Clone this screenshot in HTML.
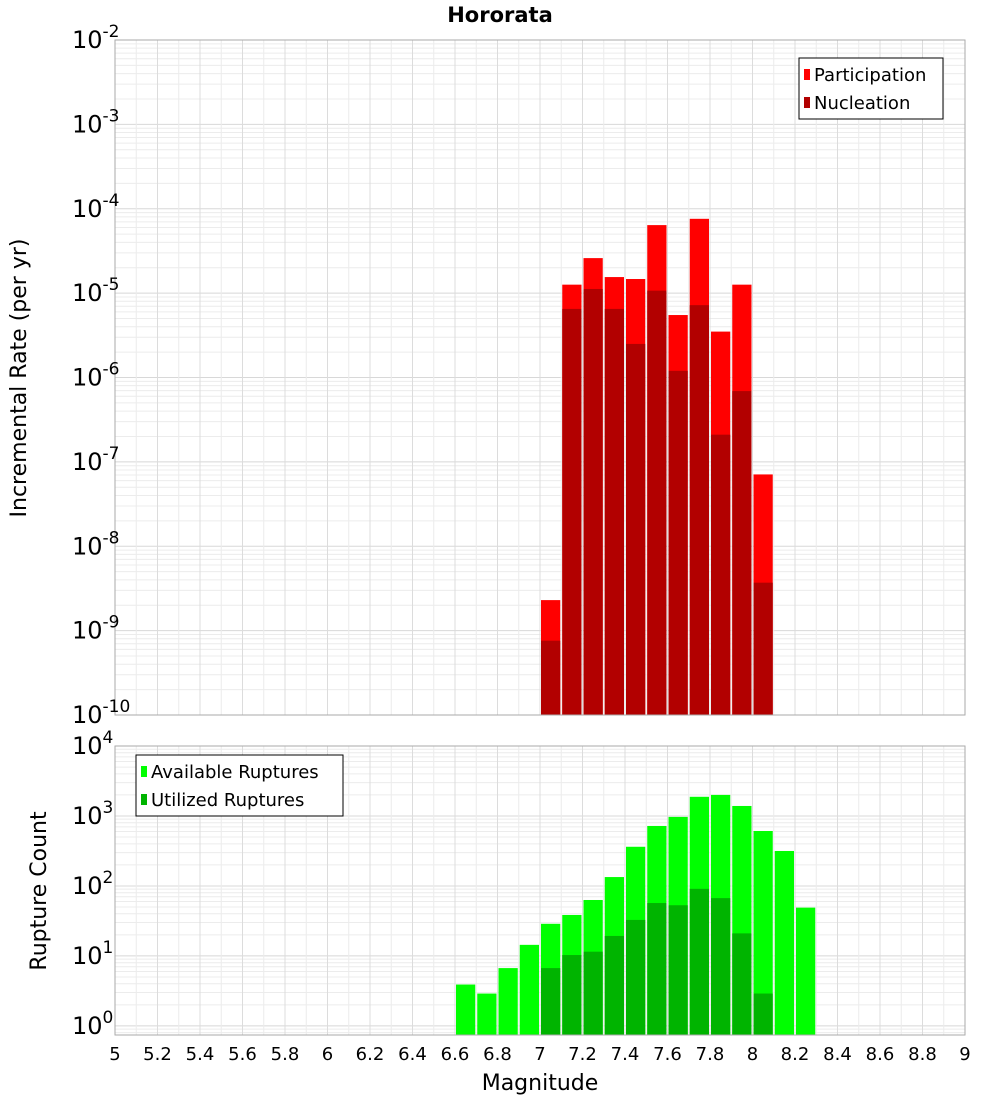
<!DOCTYPE html>
<html><head><meta charset="utf-8"><style>
body{margin:0;background:#fff;font-family:"Liberation Sans","DejaVu Sans",sans-serif}
</style></head><body>
<svg id="c" width="1000" height="1100" xmlns="http://www.w3.org/2000/svg" font-family="DejaVu Sans, Liberation Sans, sans-serif"></svg>
<script>
const magBins=[7.0,7.1,7.2,7.3,7.4,7.5,7.6,7.7,7.8,7.9,8.0];
const participation=[2.3e-9,1.26e-5,2.6e-5,1.55e-5,1.47e-5,6.4e-5,5.5e-6,7.6e-5,3.5e-6,1.26e-5,7.1e-8];
const nucleation=[7.6e-10,6.5e-6,1.12e-5,6.5e-6,2.5e-6,1.07e-5,1.2e-6,7.2e-6,2.1e-7,6.9e-7,3.7e-9];
const countBins=[6.6,6.7,6.8,6.9,7.0,7.1,7.2,7.3,7.4,7.5,7.6,7.7,7.8,7.9,8.0,8.1,8.2];
const available=[3.9,2.9,6.7,14.4,28.8,38.5,63,134,363,720,970,1880,2000,1390,610,316,49];
const utilized=[0,0,0,0,6.7,10.3,11.5,19.3,32.7,57,53,91,67,21,2.9,0,0];
const xTicks=[5,5.2,5.4,5.6,5.8,6,6.2,6.4,6.6,6.8,7,7.2,7.4,7.6,7.8,8,8.2,8.4,8.6,8.8,9];
const topExp=[-2,-3,-4,-5,-6,-7,-8,-9,-10];
const botExp=[4,3,2,1,0];

const svg=document.getElementById('c');const NS='http://www.w3.org/2000/svg';
function mk(t,a,p){const e=document.createElementNS(NS,t);for(const k in a)e.setAttribute(k,a[k]);(p||svg).appendChild(e);return e;}
const L=115,R=965;
const X=m=>L+(m-5)/4*(R-L);
const T0=40,T1=715;const yT=v=>T0+(-2-Math.log10(v))/8*(T1-T0);
const B0=746,B1=1035;const bMin=-0.13;const yB=v=>B0+(4-Math.log10(v))/(4-bMin)*(B1-B0);

function grid(y0,y1,emax,emin,yf,name){
  const g=mk('g',{});
  
  
  for(let e=Math.floor(emin);e<emax;e++)for(let k=1;k<10;k++){const v=k*Math.pow(10,e);const y=yf(v);if(y<y0||y>y1)continue;
    const l=mk('line',{x1:L,x2:R,y1:y,y2:y,stroke:k==1?'#d8d8d8':'#ececec','stroke-width':1},g);}
  for(let m=5;m<=9.001;m+=0.1){const x=X(m);mk('line',{x1:x,x2:x,y1:y0,y2:y1,stroke:'#ececec','stroke-width':1},g);}
  xTicks.forEach(m=>{const x=X(m);mk('line',{x1:x,x2:x,y1:y0,y2:y1,stroke:'#dcdcdc','stroke-width':1},g);});
}
grid(T0,T1,-2,-10,yT,'top-grid');grid(B0,B1,4,-1,yB,'bottom-grid');

function bars(bins,vals,yf,base,color,name){
  bins.forEach((b,i)=>{if(!vals[i])return;const x0=X(b)+1,x1=X(b+0.1)-1;const y=yf(vals[i]);
    const r=mk('rect',{x:x0,y:y,width:x1-x0,height:base-y,fill:color});
    
    });
}
bars(magBins,participation,yT,T1,'#ff0000','participation-bar');
bars(magBins,nucleation,yT,T1,'#b20000','nucleation-bar');
bars(countBins,available,yB,B1,'#00ff00','available-bar');
bars(countBins,utilized,yB,B1,'#00b400','utilized-bar');

mk('rect',{x:L,y:T0,width:R-L,height:T1-T0,fill:'none',stroke:'#aaa'});
mk('rect',{x:L,y:B0,width:R-L,height:B1-B0,fill:'none',stroke:'#aaa'});

function txt(x,y,s,a,name){const t=mk('text',a);t.setAttribute('x',x);t.setAttribute('y',y);t.textContent=s;
  return t;}
function pow(x,y,e,name){const t=txt(x,y,'10',{'font-size':24,'text-anchor':'start',fill:'#000'},name);
  const s=mk('tspan',{dy:-11,'font-size':17},t);s.textContent=e;}
topExp.forEach(e=>pow(72,yT(Math.pow(10,e))+8,e,'top-y-tick'));
botExp.forEach(e=>pow(72,yB(Math.pow(10,e))+8,e,'bottom-y-tick'));
xTicks.forEach(m=>txt(X(m),1060,String(m),{'font-size':18,'text-anchor':'middle'},'x-tick'));

txt(500,22,'Hororata',{'font-size':21,'font-weight':'bold','text-anchor':'middle'},'chart-title');
txt(540,1090,'Magnitude',{'font-size':22,'text-anchor':'middle'},'x-axis-title');
txt(0,0,'Incremental Rate (per yr)',{'font-size':22,'text-anchor':'middle',transform:'translate(26,378) rotate(-90)'},'top-y-axis-title');
txt(0,0,'Rupture Count',{'font-size':22,'text-anchor':'middle',transform:'translate(46,891) rotate(-90)'},'bottom-y-axis-title');

function legend(x,y,w,items,name){const g=mk('g',{});
  mk('rect',{x:x,y:y,width:w,height:items.length*28+5,fill:'#fff',stroke:'#000'},g);
  items.forEach((it,i)=>{mk('rect',{x:x+5,y:y+11+i*28,width:6,height:11,fill:it[1]},g);
    const t=mk('text',{x:x+15,y:y+23+i*28,'font-size':18},g);t.textContent=it[0];});}
legend(799,58,144,[['Participation','#ff0000'],['Nucleation','#b20000']],'top-legend');
legend(136,755,207,[['Available Ruptures','#00ff00'],['Utilized Ruptures','#00b400']],'bottom-legend');
</script>
</body></html>
